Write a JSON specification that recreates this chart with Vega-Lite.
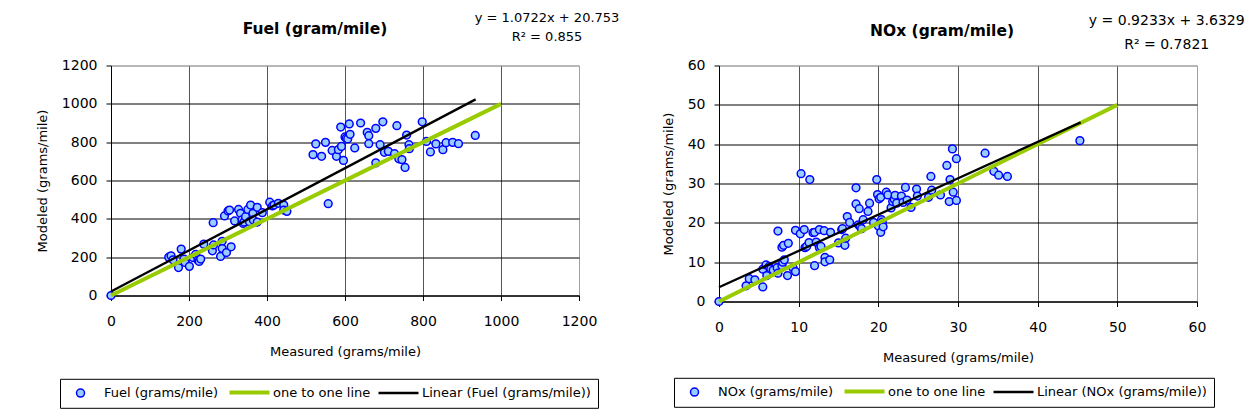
{
  "$schema": "https://vega.github.io/schema/vega-lite/v6.json",
  "padding": {"left": 35, "top": 11.5, "right": 5, "bottom": 5},
  "background": "white",
  "bounds": "flush",
  "spacing": 140,
  "resolve": {"scale": {"stroke": "independent"}, "legend": {"stroke": "independent"}},
  "config": {
    "font": "DejaVu Sans",
    "view": {"stroke": "#a0a0a0", "strokeWidth": 1},
    "axis": {"labelFont": "DejaVu Sans", "labelFontSize": 14, "labelColor": "#000", "titleFont": "DejaVu Sans", "titleFontSize": 13, "titleFontWeight": "normal", "titleColor": "#000", "domainColor": "#000", "tickColor": "#000", "tickSize": 5, "gridOpacity": 1, "labelFlush": false, "labelOverlap": false, "format": "d"},
    "axisX": {"labelPadding": 14, "titlePadding": 17},
    "axisY": {"labelPadding": 9, "titlePadding": 12},
    "legend": {"direction": "horizontal", "strokeColor": "#000", "fillColor": "#fff", "padding": 7, "labelFont": "DejaVu Sans", "labelFontSize": 13, "labelColor": "#000",
               "labelOffset": 17, "columnPadding": 2, "labelLimit": 300, "symbolSize": 64, "symbolOffset": 7, "symbolFillColor": "#99ccff",
               "symbolType": {"expr": "datum.label === 'one to one line' || datum.label === 'Linear (Fuel (grams/mile))' || datum.label === 'Linear (NOx (grams/mile))' ? 'M-5,0H5' : 'circle'"},
               "symbolStrokeWidth": {"expr": "datum.label === 'one to one line' ? 4 : (datum.label === 'Linear (Fuel (grams/mile))' || datum.label === 'Linear (NOx (grams/mile))' ? 2.5 : 1.5)"}},
    "title": {"font": "DejaVu Sans", "fontSize": 15.5, "fontWeight": "bold", "color": "#000", "anchor": "middle", "frame": "group"}
  },
  "hconcat": [
    {
      "width": 468, "height": 230,
      "title": {"text": "Fuel (gram/mile)", "dx": -30, "dy": 29.5},
      "layer": [
        {
          "data": {"values": [
            {"measured":0,"modeled":0},{"measured":148,"modeled":200},{"measured":154,"modeled":207},{"measured":159,"modeled":186},{"measured":173,"modeled":146},{"measured":180,"modeled":242},{"measured":187,"modeled":190},{"measured":190,"modeled":172},{"measured":201,"modeled":152},{"measured":210,"modeled":198},{"measured":217,"modeled":214},{"measured":223,"modeled":184},{"measured":226,"modeled":178},{"measured":230,"modeled":190},{"measured":238,"modeled":268},{"measured":260,"modeled":233},{"measured":263,"modeled":264},{"measured":285,"modeled":283},{"measured":285,"modeled":245},{"measured":281,"modeled":204},{"measured":296,"modeled":224},{"measured":308,"modeled":254},
            {"measured":262,"modeled":380},{"measured":291,"modeled":415},{"measured":300,"modeled":441},{"measured":304,"modeled":446},{"measured":317,"modeled":389},{"measured":327,"modeled":449},{"measured":332,"modeled":429},{"measured":336,"modeled":394},{"measured":339,"modeled":376},{"measured":341,"modeled":383},{"measured":345,"modeled":411},{"measured":351,"modeled":449},{"measured":355,"modeled":385},{"measured":358,"modeled":472},{"measured":364,"modeled":429},{"measured":365,"modeled":394},{"measured":375,"modeled":460},{"measured":375,"modeled":383},{"measured":388,"modeled":432},{"measured":407,"modeled":487},{"measured":414,"modeled":467},{"measured":418,"modeled":472},{"measured":429,"modeled":481},{"measured":443,"modeled":472},{"measured":443,"modeled":446},{"measured":451,"modeled":439},
            {"measured":518,"modeled":735},{"measured":525,"modeled":791},{"measured":540,"modeled":726},{"measured":550,"modeled":799},{"measured":557,"modeled":479},{"measured":567,"modeled":757},{"measured":578,"modeled":726},{"measured":583,"modeled":761},{"measured":589,"modeled":879},{"measured":591,"modeled":778},{"measured":596,"modeled":705},{"measured":600,"modeled":827},{"measured":603,"modeled":820},{"measured":607,"modeled":817},{"measured":611,"modeled":895},{"measured":613,"modeled":841},{"measured":625,"modeled":770},{"measured":640,"modeled":900},{"measured":657,"modeled":851},{"measured":661,"modeled":834},{"measured":661,"modeled":792},{"measured":679,"modeled":872},{"measured":679,"modeled":692},{"measured":690,"modeled":787},{"measured":697,"modeled":906},{"measured":701,"modeled":747},{"measured":711,"modeled":752},{"measured":727,"modeled":740},{"measured":733,"modeled":886},{"measured":738,"modeled":713},{"measured":746,"modeled":709},{"measured":754,"modeled":668},{"measured":758,"modeled":837},{"measured":764,"modeled":787},{"measured":765,"modeled":766},{"measured":798,"modeled":906},{"measured":809,"modeled":804},{"measured":819,"modeled":749},{"measured":833,"modeled":791},{"measured":851,"modeled":761},{"measured":859,"modeled":797},{"measured":876,"modeled":799},{"measured":891,"modeled":792},{"measured":934,"modeled":835}
          ]},
          "mark": {"type": "point", "shape": "circle", "filled": true, "color": "#99ccff", "size": 60, "strokeWidth": 1.5, "opacity": 1},
          "encoding": {
            "x": {"field": "measured", "type": "quantitative", "title": "Measured (grams/mile)", "scale": {"domain": [0, 1200], "nice": false, "zero": false},
                  "axis": {"values": [0,200,400,600,800,1000,1200], "gridColor": {"condition": {"test": "datum.value >= 1200", "value": "#a0a0a0"}, "value": "#555555"}}},
            "y": {"field": "modeled", "type": "quantitative", "title": "Modeled (grams/mile)", "scale": {"domain": [0, 1200], "nice": false, "zero": false},
                  "axis": {"values": [0,200,400,600,800,1000,1200], "gridColor": {"condition": {"test": "datum.value >= 1200", "value": "#a0a0a0"}, "value": "#000000"}}},
            "stroke": {"datum": "Fuel (grams/mile)", "type": "nominal",
              "scale": {"domain": ["Fuel (grams/mile)", "one to one line", "Linear (Fuel (grams/mile))"], "range": ["#0000ff", "#99cc00", "#000000"]},
              "legend": {"orient": "none", "legendX": -51, "legendY": 313.3, "title": null}}
          }
        },
        {
          "data": {"values": [{"measured":0,"modeled":0},{"measured":1000,"modeled":1000}]},
          "mark": {"type": "line", "strokeWidth": 4},
          "encoding": {
            "x": {"field": "measured", "type": "quantitative", "axis": {"values": [0,200,400,600,800,1000,1200], "gridColor": {"condition": {"test": "datum.value >= 1200", "value": "#a0a0a0"}, "value": "#555555"}}},
            "y": {"field": "modeled", "type": "quantitative", "axis": {"values": [0,200,400,600,800,1000,1200], "gridColor": {"condition": {"test": "datum.value >= 1200", "value": "#a0a0a0"}, "value": "#000000"}}},
            "stroke": {"datum": "one to one line", "type": "nominal"}
          }
        },
        {
          "data": {"values": [{"measured":0,"modeled":20.75},{"measured":935,"modeled":1023.3}]},
          "mark": {"type": "line", "strokeWidth": 2.3},
          "encoding": {
            "x": {"field": "measured", "type": "quantitative", "axis": {"values": [0,200,400,600,800,1000,1200], "gridColor": {"condition": {"test": "datum.value >= 1200", "value": "#a0a0a0"}, "value": "#555555"}}},
            "y": {"field": "modeled", "type": "quantitative", "axis": {"values": [0,200,400,600,800,1000,1200], "gridColor": {"condition": {"test": "datum.value >= 1200", "value": "#a0a0a0"}, "value": "#000000"}}},
            "stroke": {"datum": "Linear (Fuel (grams/mile))", "type": "nominal"}
          }
        },
        {
          "data": {"values": [{"eq": "y = 1.0722x + 20.753\nR² = 0.855"}]},
          "mark": {"type": "text", "lineBreak": "\n", "align": "center", "baseline": "top", "fontSize": 13, "lineHeight": 19, "font": "DejaVu Sans", "color": "#000"},
          "encoding": {
            "x": {"datum": 1118, "type": "quantitative", "axis": {"values": [0,200,400,600,800,1000,1200], "gridColor": {"condition": {"test": "datum.value >= 1200", "value": "#a0a0a0"}, "value": "#555555"}}},
            "y": {"datum": 1478, "type": "quantitative", "axis": {"values": [0,200,400,600,800,1000,1200], "gridColor": {"condition": {"test": "datum.value >= 1200", "value": "#a0a0a0"}, "value": "#000000"}}},
            "text": {"field": "eq", "type": "nominal"}
          }
        }
      ]
    },
    {
      "width": 478, "height": 236,
      "title": {"text": "NOx (gram/mile)", "dx": -16, "dy": 29.5},
      "layer": [
        {
          "data": {"values": [
            {"measured":0,"modeled":0},{"measured":3.4,"modeled":4.0},{"measured":3.8,"modeled":5.8},{"measured":4.5,"modeled":5.5},{"measured":5.5,"modeled":3.7},{"measured":5.5,"modeled":8.2},{"measured":5.9,"modeled":9.3},{"measured":6.0,"modeled":6.6},{"measured":6.3,"modeled":8.9},{"measured":6.5,"modeled":8.3},{"measured":6.8,"modeled":8.0},{"measured":7.3,"modeled":8.6},{"measured":7.4,"modeled":17.9},{"measured":7.4,"modeled":7.2},{"measured":7.9,"modeled":9.1},{"measured":8.0,"modeled":10.0},{"measured":7.9,"modeled":13.8},{"measured":8.1,"modeled":14.3},{"measured":8.2,"modeled":10.6},{"measured":8.6,"modeled":6.6},{"measured":8.7,"modeled":14.8},{"measured":9.3,"modeled":8.5},{"measured":9.6,"modeled":7.6},{"measured":9.6,"modeled":18.1},{"measured":10.2,"modeled":17.2},{"measured":10.3,"modeled":32.5},{"measured":10.7,"modeled":18.3},{"measured":10.8,"modeled":13.7},{"measured":11.0,"modeled":14.0},{"measured":11.3,"modeled":15.0},{"measured":11.4,"modeled":31.0},{"measured":11.8,"modeled":17.5},{"measured":12.0,"modeled":9.1},{"measured":12.0,"modeled":17.6},{"measured":12.2,"modeled":15.1},{"measured":12.6,"modeled":18.3},{"measured":12.6,"modeled":13.7},{"measured":12.8,"modeled":14.0},{"measured":13.2,"modeled":18.0},{"measured":13.3,"modeled":11.2},{"measured":13.3,"modeled":10.1},{"measured":13.9,"modeled":10.6},{"measured":14.0,"modeled":17.6},{"measured":15.0,"modeled":14.9},{"measured":15.4,"modeled":18.3},{"measured":15.5,"modeled":18.5},{"measured":15.8,"modeled":14.3},{"measured":15.9,"modeled":16.1},{"measured":16.1,"modeled":21.6},{"measured":16.4,"modeled":20.1},{"measured":17.2,"modeled":28.9},{"measured":17.2,"modeled":24.8},{"measured":17.5,"modeled":19.5},{"measured":17.6,"modeled":23.6},{"measured":17.7,"modeled":19.1},{"measured":17.9,"modeled":18.5},{"measured":18.1,"modeled":20.8},{"measured":18.7,"modeled":22.9},{"measured":18.9,"modeled":25.0},{"measured":19.4,"modeled":20.1},{"measured":19.8,"modeled":31.0},{"measured":19.9,"modeled":27.2},{"measured":20.0,"modeled":19.2},{"measured":20.1,"modeled":26.1},{"measured":20.3,"modeled":17.6},{"measured":20.3,"modeled":26.5},{"measured":20.4,"modeled":20.8},{"measured":20.5,"modeled":20.2},{"measured":20.6,"modeled":19.0},{"measured":21.0,"modeled":27.8},{"measured":21.2,"modeled":27.1},{"measured":21.6,"modeled":23.8},{"measured":21.8,"modeled":25.4},{"measured":22.0,"modeled":26.0},{"measured":22.1,"modeled":27.0},{"measured":22.3,"modeled":25.0},{"measured":22.9,"modeled":26.8},{"measured":23.1,"modeled":25.2},{"measured":23.4,"modeled":29.0},{"measured":23.6,"modeled":25.8},{"measured":24.1,"modeled":23.9},{"measured":24.8,"modeled":28.6},{"measured":24.9,"modeled":26.8},{"measured":26.3,"modeled":26.5},{"measured":26.6,"modeled":31.8},{"measured":26.7,"modeled":28.3},{"measured":27.8,"modeled":27.1},{"measured":28.6,"modeled":34.6},{"measured":28.9,"modeled":25.4},{"measured":29.0,"modeled":31.0},{"measured":29.3,"modeled":38.8},{"measured":29.4,"modeled":27.8},{"measured":29.8,"modeled":36.3},{"measured":29.8,"modeled":25.7},{"measured":33.4,"modeled":37.7},{"measured":34.5,"modeled":33.1},{"measured":35.1,"modeled":32.1},{"measured":36.2,"modeled":31.8},{"measured":45.3,"modeled":40.9}
          ]},
          "mark": {"type": "point", "shape": "circle", "filled": true, "color": "#99ccff", "size": 60, "strokeWidth": 1.5, "opacity": 1},
          "encoding": {
            "x": {"field": "measured", "type": "quantitative", "title": "Measured (grams/mile)", "scale": {"domain": [0, 60], "nice": false, "zero": false},
                  "axis": {"values": [0,10,20,30,40,50,60], "gridColor": {"condition": {"test": "datum.value >= 60", "value": "#a0a0a0"}, "value": "#555555"}}},
            "y": {"field": "modeled", "type": "quantitative", "title": "Modeled (grams/mile)", "scale": {"domain": [0, 60], "nice": false, "zero": false},
                  "axis": {"values": [0,10,20,30,40,50,60], "gridColor": {"condition": {"test": "datum.value >= 60", "value": "#a0a0a0"}, "value": "#000000"}}},
            "stroke": {"datum": "NOx (grams/mile)", "type": "nominal",
              "scale": {"domain": ["NOx (grams/mile)", "one to one line", "Linear (NOx (grams/mile))"], "range": ["#0000ff", "#99cc00", "#000000"]},
              "legend": {"orient": "none", "legendX": -45, "legendY": 312.3, "title": null}}
          }
        },
        {
          "data": {"values": [{"measured":0,"modeled":0},{"measured":50,"modeled":50}]},
          "mark": {"type": "line", "strokeWidth": 4},
          "encoding": {
            "x": {"field": "measured", "type": "quantitative", "axis": {"values": [0,10,20,30,40,50,60], "gridColor": {"condition": {"test": "datum.value >= 60", "value": "#a0a0a0"}, "value": "#555555"}}},
            "y": {"field": "modeled", "type": "quantitative", "axis": {"values": [0,10,20,30,40,50,60], "gridColor": {"condition": {"test": "datum.value >= 60", "value": "#a0a0a0"}, "value": "#000000"}}},
            "stroke": {"datum": "one to one line", "type": "nominal"}
          }
        },
        {
          "data": {"values": [{"measured":0,"modeled":3.63},{"measured":45.4,"modeled":45.55}]},
          "mark": {"type": "line", "strokeWidth": 2.3},
          "encoding": {
            "x": {"field": "measured", "type": "quantitative", "axis": {"values": [0,10,20,30,40,50,60], "gridColor": {"condition": {"test": "datum.value >= 60", "value": "#a0a0a0"}, "value": "#555555"}}},
            "y": {"field": "modeled", "type": "quantitative", "axis": {"values": [0,10,20,30,40,50,60], "gridColor": {"condition": {"test": "datum.value >= 60", "value": "#a0a0a0"}, "value": "#000000"}}},
            "stroke": {"datum": "Linear (NOx (grams/mile))", "type": "nominal"}
          }
        },
        {
          "data": {"values": [{"eq": "y = 0.9233x + 3.6329\nR² = 0.7821"}]},
          "mark": {"type": "text", "lineBreak": "\n", "align": "center", "baseline": "top", "fontSize": 14, "lineHeight": 24, "font": "DejaVu Sans", "color": "#000"},
          "encoding": {
            "x": {"datum": 56.2, "type": "quantitative", "axis": {"values": [0,10,20,30,40,50,60], "gridColor": {"condition": {"test": "datum.value >= 60", "value": "#a0a0a0"}, "value": "#555555"}}},
            "y": {"datum": 73.1, "type": "quantitative", "axis": {"values": [0,10,20,30,40,50,60], "gridColor": {"condition": {"test": "datum.value >= 60", "value": "#a0a0a0"}, "value": "#000000"}}},
            "text": {"field": "eq", "type": "nominal"}
          }
        }
      ]
    }
  ]
}
